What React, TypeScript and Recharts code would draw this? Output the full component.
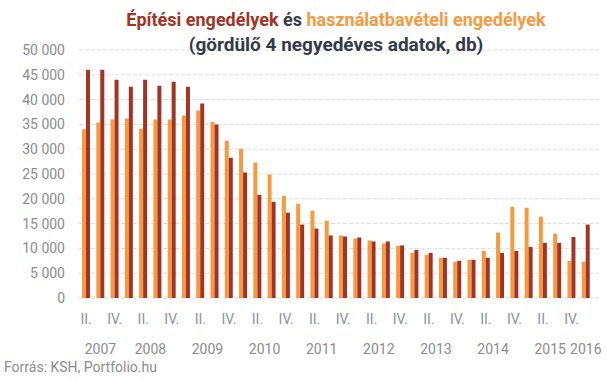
import React from "react";
import { BarChart, Bar, XAxis, YAxis, CartesianGrid } from "recharts";

const quarters = [
  "II.", "III.", "IV.",
  "I.", "II.", "III.", "IV.",
  "I.", "II.", "III.", "IV.",
  "I.", "II.", "III.", "IV.",
  "I.", "II.", "III.", "IV.",
  "I.", "II.", "III.", "IV.",
  "I.", "II.", "III.", "IV.",
  "I.", "II.", "III.", "IV.",
  "I.", "II.", "III.", "IV.",
  "I.",
];

const years = [
  2007, 2007, 2007,
  2008, 2008, 2008, 2008,
  2009, 2009, 2009, 2009,
  2010, 2010, 2010, 2010,
  2011, 2011, 2011, 2011,
  2012, 2012, 2012, 2012,
  2013, 2013, 2013, 2013,
  2014, 2014, 2014, 2014,
  2015, 2015, 2015, 2015,
  2016,
];

// Építési engedélyek (dark red)
const epitesi = [
  46000, 46000, 44000, 42600, 44000, 42800, 43600, 42600, 39200, 35000,
  28300, 25300, 20800, 19400, 17200, 14800, 14000, 12600, 12400, 12200,
  11400, 11400, 10600, 9700, 9100, 8100, 7500, 7700, 8100, 9100,
  9500, 10300, 11100, 11100, 12300, 14800,
];

// Használatbavételi engedélyek (orange)
const hasznalat = [
  34000, 35400, 36000, 36200, 34100, 36000, 36000, 36800, 37800, 35500,
  31700, 30100, 27300, 24900, 20600, 19000, 17600, 15600, 12600, 12000,
  11600, 11000, 10500, 9100, 8700, 8100, 7300, 7700, 9500, 13200,
  18400, 18200, 16400, 13000, 7500, 7300,
];

const yTicks = [0, 5000, 10000, 15000, 20000, 25000, 30000, 35000, 40000, 45000, 50000];
const shownQuarters = ["II.", "IV."];

const data = quarters.map((q, i) => ({
  key: `${years[i]}-${q}`,
  quarter: q,
  year: years[i],
  hasznalat: hasznalat[i],
  epitesi: epitesi[i],
}));

const W = 607;
const H = 380;
const MARGIN = { top: 50, right: 6, left: 0, bottom: 0 };
const Y_WIDTH = 79;
const X_HEIGHT = 82;
const PAD_RIGHT = 8;
const STEP = (W - MARGIN.right - Y_WIDTH - PAD_RIGHT) / data.length;

const ORANGE = "#F79A3F";
const RED = "#A33324";
const GRAY = "#8c8c8c";
const FONT = "Roboto, 'Noto Sans', sans-serif";

const fmt = (v: number) => String(v).replace(/\B(?=(\d{3})+(?!\d))/g, " ");

const XTick = (props: any) => {
  const { x, y, payload } = props;
  const i = payload.index;
  const d = data[i];
  if (!d) return null;
  const first = data.findIndex((e) => e.year === d.year);
  let last = first;
  data.forEach((e, j) => {
    if (e.year === d.year) last = j;
  });
  return (
    <g>
      {shownQuarters.includes(d.quarter) && (
        <text x={x} y={y + 26} textAnchor="middle" fill="#8b93a3" fontSize={14} fontFamily={FONT}>
          {d.quarter}
        </text>
      )}
      {i === first && (
        <text
          x={x + ((last - first) / 2) * STEP}
          y={y + 56}
          textAnchor="middle"
          fill={GRAY}
          fontSize={14}
          fontFamily={FONT}
        >
          {d.year}
        </text>
      )}
    </g>
  );
};

export default function App() {
  return (
    <div style={{ position: "absolute", left: 0, top: 0, width: W, height: H, background: "#fff", fontFamily: FONT }}>
      <BarChart width={W} height={H} data={data} margin={MARGIN} barGap={0} barSize={4}>
        <CartesianGrid vertical={false} stroke="#dcdcdc" strokeDasharray="4 2" />
        <YAxis
          width={Y_WIDTH}
          domain={[0, 50000]}
          ticks={yTicks}
          tickFormatter={fmt}
          axisLine={false}
          tickLine={false}
          tickSize={0}
          tickMargin={14}
          tick={{ fill: GRAY, fontSize: 14, fontFamily: FONT }}
          interval={0}
        />
        <XAxis
          dataKey="key"
          height={X_HEIGHT}
          interval={0}
          axisLine={false}
          tickLine={false}
          tickSize={0}
          tickMargin={0}
          padding={{ left: 0, right: PAD_RIGHT }}
          tick={<XTick />}
        />
        <Bar dataKey="hasznalat" fill={ORANGE} isAnimationActive={false} />
        <Bar dataKey="epitesi" fill={RED} isAnimationActive={false} />
      </BarChart>
      <div
        style={{
          position: "absolute",
          left: 36,
          top: 7,
          width: 600,
          textAlign: "center",
          fontSize: 18,
          lineHeight: "25px",
          fontWeight: 700,
          fontFamily: FONT,
          color: "#353d49",
          whiteSpace: "nowrap",
        }}
      >
        <span style={{ color: RED }}>Építési engedélyek</span> és{" "}
        <span style={{ color: ORANGE }}>használatbavételi engedélyek</span>
      </div>
      <div
        style={{
          position: "absolute",
          left: 36,
          top: 32,
          width: 600,
          textAlign: "center",
          fontSize: 19,
          lineHeight: "25px",
          fontWeight: 700,
          fontFamily: FONT,
          color: "#333b47",
          whiteSpace: "nowrap",
        }}
      >
        (gördülő 4 negyedéves adatok, db)
      </div>
      <div
        style={{
          position: "absolute",
          left: 4,
          top: 359,
          fontSize: 14,
          lineHeight: "16px",
          color: GRAY,
          fontFamily: FONT,
        }}
      >
        Forrás: KSH, Portfolio.hu
      </div>
    </div>
  );
}
